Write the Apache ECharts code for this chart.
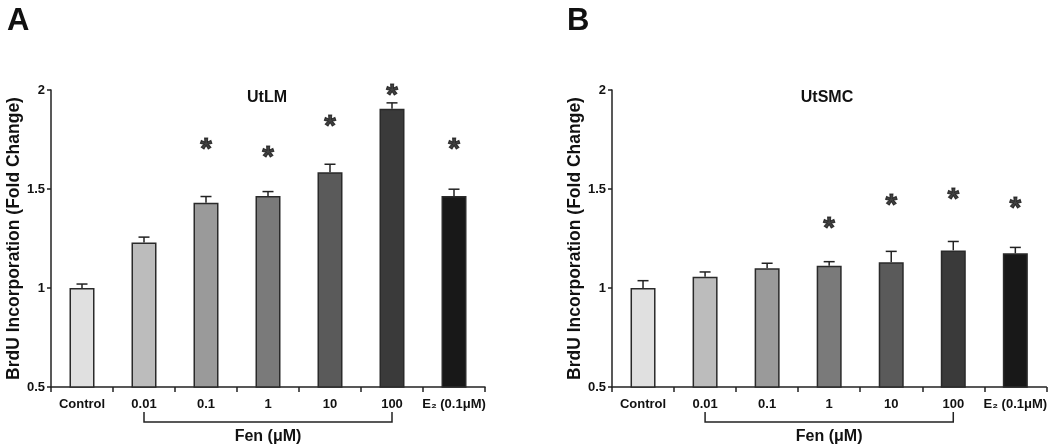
<!DOCTYPE html>
<html><head><meta charset="utf-8">
<script src="https://cdn.jsdelivr.net/npm/echarts@6/dist/echarts.min.js"></script>
<style>html,body{margin:0;padding:0;background:#fff}#c{width:1050px;height:447px}</style>
</head><body><div id="c"></div>
<script>
var categories = ['Control', '0.01', '0.1', '1', '10', '100', 'E₂ (0.1μM)'];
var barColors = ['#e0e0e0', '#bcbcbc', '#9a9a9a', '#7a7a7a', '#5a5a5a', '#3a3a3a', '#181818'];
// Panel A: UtLM
var valuesA = [1.00, 1.23, 1.43, 1.465, 1.585, 1.905, 1.465];
var errorsA = [0.02, 0.027, 0.032, 0.022, 0.04, 0.03, 0.034];
var starsA = [null, null, 1.74, 1.70, 1.855, 2.01, 1.737];
// Panel B: UtSMC
var valuesB = [1.00, 1.057, 1.10, 1.113, 1.13, 1.19, 1.175];
var errorsB = [0.037, 0.024, 0.025, 0.02, 0.055, 0.045, 0.03];
var starsB = [null, null, null, 1.34, 1.458, 1.486, 1.441];
var yTicks = [0.5, 1, 1.5, 2];

var FONT = '"Liberation Sans", Arial, sans-serif';
var chart = echarts.init(document.getElementById('c'));

function xAxis(idx) {
  return {
    type: 'category', gridIndex: idx, data: categories,
    axisLine: {lineStyle: {color: '#222', width: 1.5}},
    axisTick: {show: true, alignWithLabel: false, length: 5, lineStyle: {color: '#222', width: 1.5}},
    axisLabel: {color: '#111', fontFamily: FONT, fontWeight: 'bold', fontSize: 13, margin: 11, interval: 0}
  };
}
function yAxis(idx) {
  return {
    type: 'value', gridIndex: idx, min: yTicks[0], max: yTicks[yTicks.length - 1], interval: 0.5,
    name: 'BrdU Incorporation (Fold Change)', nameLocation: 'middle', nameGap: 20,
    nameTextStyle: {color: '#111', fontFamily: FONT, fontWeight: 'bold', fontSize: 17.5},
    axisLine: {show: true, lineStyle: {color: '#222', width: 1.5}},
    axisTick: {show: true, length: 4, lineStyle: {color: '#222', width: 1.5}},
    axisLabel: {color: '#111', fontFamily: FONT, fontWeight: 'bold', fontSize: 13, margin: 6},
    splitLine: {show: false}
  };
}
function barSeries(idx, vals) {
  return {
    type: 'bar', xAxisIndex: idx, yAxisIndex: idx, barWidth: 25,
    data: vals.map(function (v, i) {
      return {value: v, itemStyle: {color: barColors[i], borderColor: '#2a2a2a', borderWidth: 1.5}};
    }),
    animation: false, z: 2
  };
}
function errSeries(idx, vals, errs) {
  return {
    type: 'custom', xAxisIndex: idx, yAxisIndex: idx, z: 1,
    data: vals.map(function (v, i) { return [i, v, v + errs[i]]; }),
    renderItem: function (params, api) {
      var base = api.coord([api.value(0), api.value(1)]);
      var top = api.coord([api.value(0), api.value(2)]);
      var hw = 5.5;
      return {
        type: 'group', children: [
          {type: 'line', shape: {x1: base[0], y1: base[1], x2: top[0], y2: top[1]}, style: {stroke: '#222', lineWidth: 1.5}},
          {type: 'line', shape: {x1: top[0] - hw, y1: top[1], x2: top[0] + hw, y2: top[1]}, style: {stroke: '#222', lineWidth: 1.5}}
        ]
      };
    },
    animation: false
  };
}
function starSeries(idx, stars) {
  var d = [];
  stars.forEach(function (s, i) { if (s !== null) d.push([i, s]); });
  return {
    type: 'scatter', xAxisIndex: idx, yAxisIndex: idx, symbolSize: 0, clip: false, data: d,
    label: {show: true, position: 'inside', formatter: '*', color: '#111', textBorderColor: '#111', textBorderWidth: 1,
            fontFamily: FONT, fontWeight: 'bold', fontSize: 30, offset: [0, 8]},
    animation: false, silent: true
  };
}

var option = {
  backgroundColor: '#fff',
  animation: false,
  textStyle: {fontFamily: FONT},
  grid: [
    {left: 51, right: 565, top: 90, bottom: 60, containLabel: false},
    {left: 612, right: 2, top: 90, bottom: 60, containLabel: false}
  ],
  xAxis: [xAxis(0), xAxis(1)],
  yAxis: [yAxis(0), yAxis(1)],
  series: [
    barSeries(0, valuesA), errSeries(0, valuesA, errorsA), starSeries(0, starsA),
    barSeries(1, valuesB), errSeries(1, valuesB, errorsB), starSeries(1, starsB)
  ]
};
chart.setOption(option);

function bracket(idx) {
  var p1 = chart.convertToPixel({xAxisIndex: idx}, categories[1]);
  var p2 = chart.convertToPixel({xAxisIndex: idx}, categories[5]);
  var yTop = 412, yBot = 422;
  return [
    {type: 'polyline', shape: {points: [[p1, yTop], [p1, yBot], [p2, yBot], [p2, yTop]]}, style: {stroke: '#222', lineWidth: 1.5, fill: null}},
    {type: 'text', style: {text: 'Fen (μM)', x: (p1 + p2) / 2, y: 437, textAlign: 'center', textVerticalAlign: 'middle', font: 'bold 16px ' + FONT, fill: '#111'}}
  ];
}
chart.setOption({
  graphic: [
    {type: 'text', left: 7, top: 6, style: {text: 'A', font: 'bold 31px ' + FONT, fill: '#111'}},
    {type: 'text', left: 567, top: 6, style: {text: 'B', font: 'bold 31px ' + FONT, fill: '#111'}},
    {type: 'text', style: {text: 'UtLM', x: 267, y: 98, textAlign: 'center', textVerticalAlign: 'middle', font: 'bold 16px ' + FONT, fill: '#111'}},
    {type: 'text', style: {text: 'UtSMC', x: 827, y: 98, textAlign: 'center', textVerticalAlign: 'middle', font: 'bold 16px ' + FONT, fill: '#111'}}
  ].concat(bracket(0), bracket(1))
});
</script>
</body></html>
